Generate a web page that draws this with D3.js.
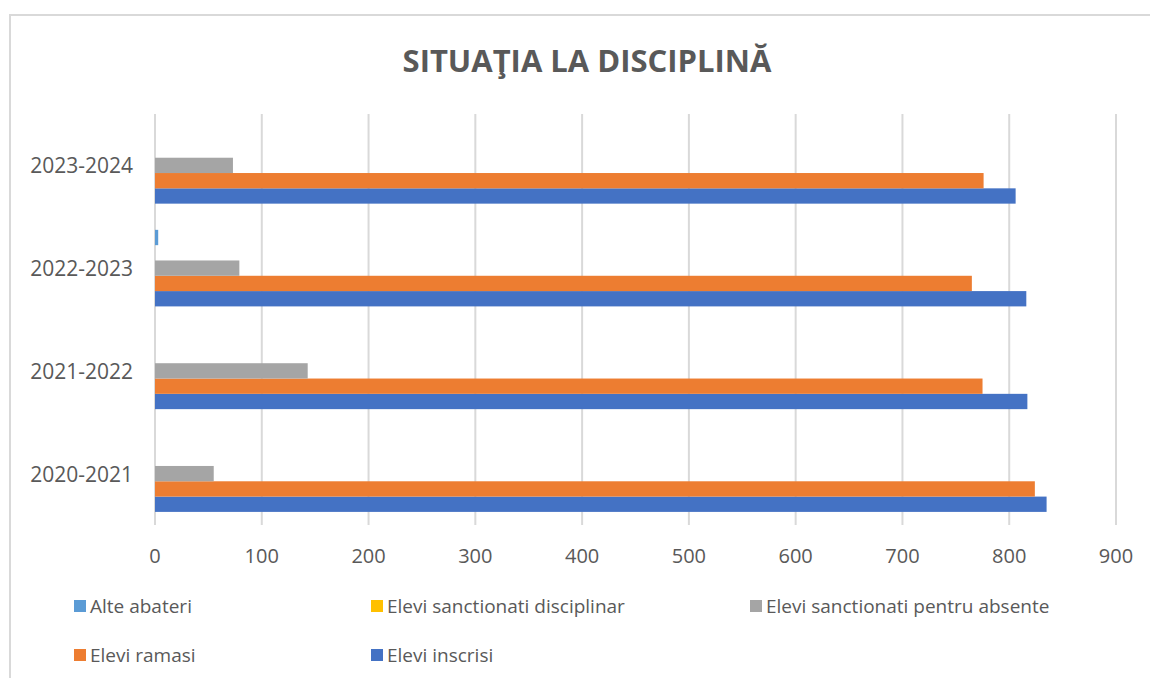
<!DOCTYPE html>
<html>
<head>
<meta charset="utf-8">
<script src="https://cdn.jsdelivr.net/npm/d3@7.9.0/dist/d3.min.js"></script>
<style>
  body { margin: 0; background: #fff; }
  svg { display: block; }
  text { font-family: "Open Sans", sans-serif; fill: #595959; }
</style>
</head>
<body>
<svg id="chart" width="1150" height="678"></svg>
<script>
// data
const years = ['2020-2021', '2021-2022', '2022-2023', '2023-2024'];
const seriesNames = ['Elevi inscrisi', 'Elevi ramasi', 'Elevi sanctionati pentru absente',
  'Elevi sanctionati disciplinar', 'Alte abateri'];
const eleviInscrisi = [835, 817, 816, 806];
const eleviRamasi = [824, 775, 765, 776];
const sanctionatiAbsente = [55, 143, 79, 73];
const sanctionatiDisciplinar = [0, 0, 0, 0];
const alteAbateri = [0, 0, 3, 0];
const xTicks = [0, 100, 200, 300, 400, 500, 600, 700, 800, 900];

const values = [eleviInscrisi, eleviRamasi, sanctionatiAbsente, sanctionatiDisciplinar, alteAbateri];
const colors = ['#4472c4', '#ed7d31', '#a5a5a5', '#ffc000', '#5b9bd5'];

const svg = d3.select('#chart');

// chart frame
svg.append('rect')
  .attr('x', 10).attr('y', 15)
  .attr('width', 1160).attr('height', 700)
  .attr('fill', 'none')
  .attr('stroke', '#d9d9d9')
  .attr('stroke-width', 2);

svg.append('text')
  .attr('x', 587).attr('y', 72)
  .attr('text-anchor', 'middle')
  .style('font-size', '31px')
  .style('font-weight', 'bold')
  .text('SITUAŢIA LA DISCIPLINĂ');

const x = d3.scaleLinear().domain([0, 900]).range([155, 1116]);
const y = d3.scaleBand().domain(years).range([525, 114])
  .paddingInner(0.255).paddingOuter(0.1275);
const ySub = d3.scaleBand().domain(d3.range(seriesNames.length)).range([y.bandwidth(), 0]);

// gridlines
svg.append('g')
  .selectAll('line')
  .data(xTicks)
  .join('line')
  .attr('x1', d => x(d)).attr('x2', d => x(d))
  .attr('y1', 114).attr('y2', 525)
  .attr('stroke', '#d9d9d9')
  .attr('stroke-width', 2);

// bars
const groups = svg.append('g')
  .selectAll('g')
  .data(years)
  .join('g')
  .attr('transform', d => `translate(0,${y(d)})`);

groups.selectAll('rect')
  .data((d, i) => values.map((arr, s) => ({ s, v: arr[i] })))
  .join('rect')
  .attr('x', x(0))
  .attr('y', d => ySub(d.s))
  .attr('width', d => x(d.v) - x(0))
  .attr('height', ySub.bandwidth())
  .attr('fill', d => colors[d.s]);

// x tick labels
svg.append('g')
  .selectAll('text')
  .data(xTicks)
  .join('text')
  .attr('x', d => x(d))
  .attr('y', 563)
  .attr('text-anchor', 'middle')
  .style('font-size', '20px')
  .text(d => d);

// category labels
svg.append('g')
  .selectAll('text')
  .data(years)
  .join('text')
  .attr('x', 133)
  .attr('y', d => y(d) + y.bandwidth() / 2 + 8)
  .attr('text-anchor', 'end')
  .style('font-size', '21px')
  .text(d => d);

// legend (Excel order)
const legendItems = [
  { name: seriesNames[4], color: colors[4], x: 74, y: 606 },
  { name: seriesNames[3], color: colors[3], x: 371, y: 606 },
  { name: seriesNames[2], color: colors[2], x: 750, y: 606 },
  { name: seriesNames[1], color: colors[1], x: 74, y: 655 },
  { name: seriesNames[0], color: colors[0], x: 371, y: 655 }
];

const leg = svg.append('g')
  .selectAll('g')
  .data(legendItems)
  .join('g')
  .attr('transform', d => `translate(${d.x},${d.y})`);

leg.append('rect')
  .attr('x', 0).attr('y', -6)
  .attr('width', 12).attr('height', 12)
  .attr('fill', d => d.color);

leg.append('text')
  .attr('x', 16).attr('y', 7)
  .style('font-size', '19px')
  .text(d => d.name);
</script>
</body>
</html>
